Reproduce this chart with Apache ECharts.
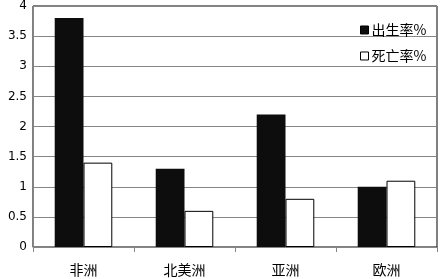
<!DOCTYPE html>
<html><head><meta charset="utf-8">
<script src="https://cdn.jsdelivr.net/npm/echarts@6/dist/echarts.min.js"></script>
<style>html,body{margin:0;padding:0;background:#fff}#c{width:442px;height:279px}</style>
</head><body><div id="c"></div>
<script>
const categories = ['非洲', '北美洲', '亚洲', '欧洲'];
const birthRate = [3.8, 1.3, 2.2, 1.0];
const deathRate = [1.4, 0.6, 0.8, 1.1];
const seriesNames = ['出生率%', '死亡率%'];

const chart = echarts.init(document.getElementById('c'));
chart.setOption({
  animation: false,
  backgroundColor: '#fff',
  textStyle: { fontFamily: '"DejaVu Sans", "Noto Sans CJK SC", sans-serif' },
  grid: { left: 33, right: 5, top: 6, bottom: 32, show: true, borderColor: '#000', borderWidth: 1, backgroundColor: 'transparent' },
  legend: {
    orient: 'vertical', left: 355, top: 18,
    itemWidth: 8, itemHeight: 8, itemGap: 12, icon: 'rect',
    itemStyle: { borderWidth: 1 },
    textStyle: { fontSize: 14, color: '#000', fontFamily: '"Noto Sans CJK SC", sans-serif', padding: [0, 0, 0, -2] },
    data: seriesNames
  },
  xAxis: [{
    type: 'category', data: categories,
    axisLine: { lineStyle: { color: '#868686', width: 1 } },
    axisTick: { show: true, length: 5, lineStyle: { color: '#868686' } },
    axisLabel: { fontSize: 14, color: '#000', margin: 16, fontFamily: '"Noto Sans CJK SC", sans-serif' }
  }],
  yAxis: [{
    type: 'value', min: 0, max: 4, interval: 0.5,
    axisLine: { show: true, onZero: false, lineStyle: { color: '#868686' } },
    axisTick: { show: false },
    splitLine: { lineStyle: { color: '#868686', width: 1 } },
    axisLabel: { fontSize: 12, color: '#000', margin: 6 }
  }],
  series: [{
    name: seriesNames[0], type: 'bar', data: birthRate,
    barGap: '0%', barCategoryGap: '43%',
    itemStyle: { color: '#0d0d0d', borderColor: '#000', borderWidth: 0, borderRadius: 0 }
  }, {
    name: seriesNames[1], type: 'bar', data: deathRate,
    itemStyle: { color: '#fff', borderColor: '#000', borderWidth: 1, borderRadius: 0 }
  }]
});
</script></body></html>
